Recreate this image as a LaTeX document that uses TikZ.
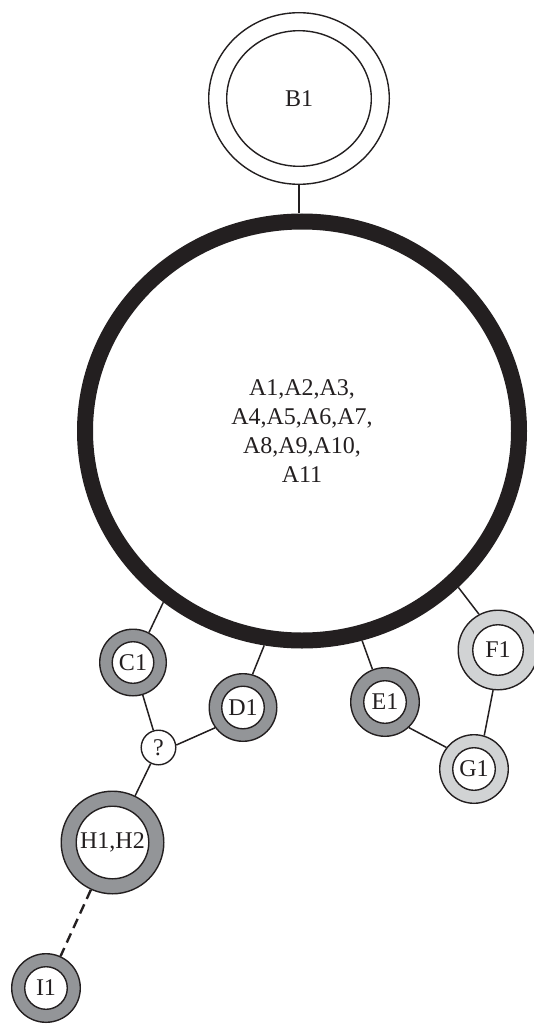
\documentclass[tikz,border=0pt]{standalone}
\usepackage{fontspec}
\setmainfont{Liberation Serif}
\usetikzlibrary{shapes.geometric}
\definecolor{ink}{HTML}{231F20}
\definecolor{darkring}{HTML}{939598}
\definecolor{lightring}{HTML}{D1D3D4}
\begin{document}
\begin{tikzpicture}[x=1pt,y=-1pt,
  lbl/.style={font=\fontsize{24}{28.8}\selectfont, text=ink},
  ring/.style={circle, draw=ink, line width=1.4pt, fill=#1, inner sep=0pt},
  core/.style={circle, draw=ink, line width=1.4pt, fill=white, inner sep=0pt, lbl},
  oval/.style={ellipse, draw=ink, line width=1.4pt, fill=white, inner sep=0pt},
  link/.style={draw=ink, line width=1.5pt},
  dashlink/.style={draw=ink, line width=2.4pt, dash pattern=on 10pt off 6pt}]
\useasboundingbox (0,0) rectangle (533,1024);
% big group
\node[ellipse, draw=ink, line width=16pt, minimum width=434pt, minimum height=419pt,
      inner sep=0pt, fill=white, align=center, lbl] (A) at (302,431)
      {A1,A2,A3,\\A4,A5,A6,A7,\\A8,A9,A10,\\A11};
% B1
\node[oval, minimum width=180.6pt, minimum height=171.6pt] (B1) at (299,98.5) {};
\node[oval, minimum width=144.6pt, minimum height=135.6pt, lbl] (B1in) at (B1) {B1};
% ringed nodes
\node[ring=darkring, minimum size=66.6pt] (C1) at (133,662.5) {};
\node[core, minimum size=41.6pt] (C1in) at (C1) {C1};
\node[ring=darkring, minimum size=67.6pt] (D1) at (243,707.5) {};
\node[core, minimum size=42.6pt] (D1in) at (D1) {D1};
\node[ring=darkring, minimum size=68.6pt] (E1) at (385,702) {};
\node[core, minimum size=42.6pt] (E1in) at (E1) {E1};
\node[ring=lightring, minimum size=79.6pt] (F1) at (498,650) {};
\node[core, minimum size=50.6pt] (F1in) at (F1) {F1};
\node[ring=lightring, minimum size=68.6pt] (G1) at (474,769) {};
\node[core, minimum size=42.6pt] (G1in) at (G1) {G1};
\node[ring=darkring, minimum size=102.6pt] (H1) at (112.5,842.5) {};
\node[core, minimum size=72.6pt] (H1in) at (H1) {H1,H2};
\node[ring=darkring, minimum size=68.6pt] (I1) at (46,988) {};
\node[core, minimum size=42.6pt] (I1in) at (I1) {I1};
\node[core, minimum size=34.6pt] (q) at (158.5,747.5) {?};
% connectors
\draw[link] (B1.south) -- (B1.south |- A.north);
\draw[link] (C1.62) -- (A.231);
\draw[link] (D1.74) -- (A.260);
\draw[link] (E1.111) -- (A.286);
\draw[link] (F1.118) -- (A.315);
\draw[link] (C1) -- (q);
\draw[link] (q.8) -- (D1.216);
\draw[link] (q) -- (H1);
\draw[dashlink] (H1) -- (I1);
\draw[link] (E1.-47) -- (G1.142);
\draw[link] (F1.263) -- (G1.73);
\end{tikzpicture}
\end{document}
